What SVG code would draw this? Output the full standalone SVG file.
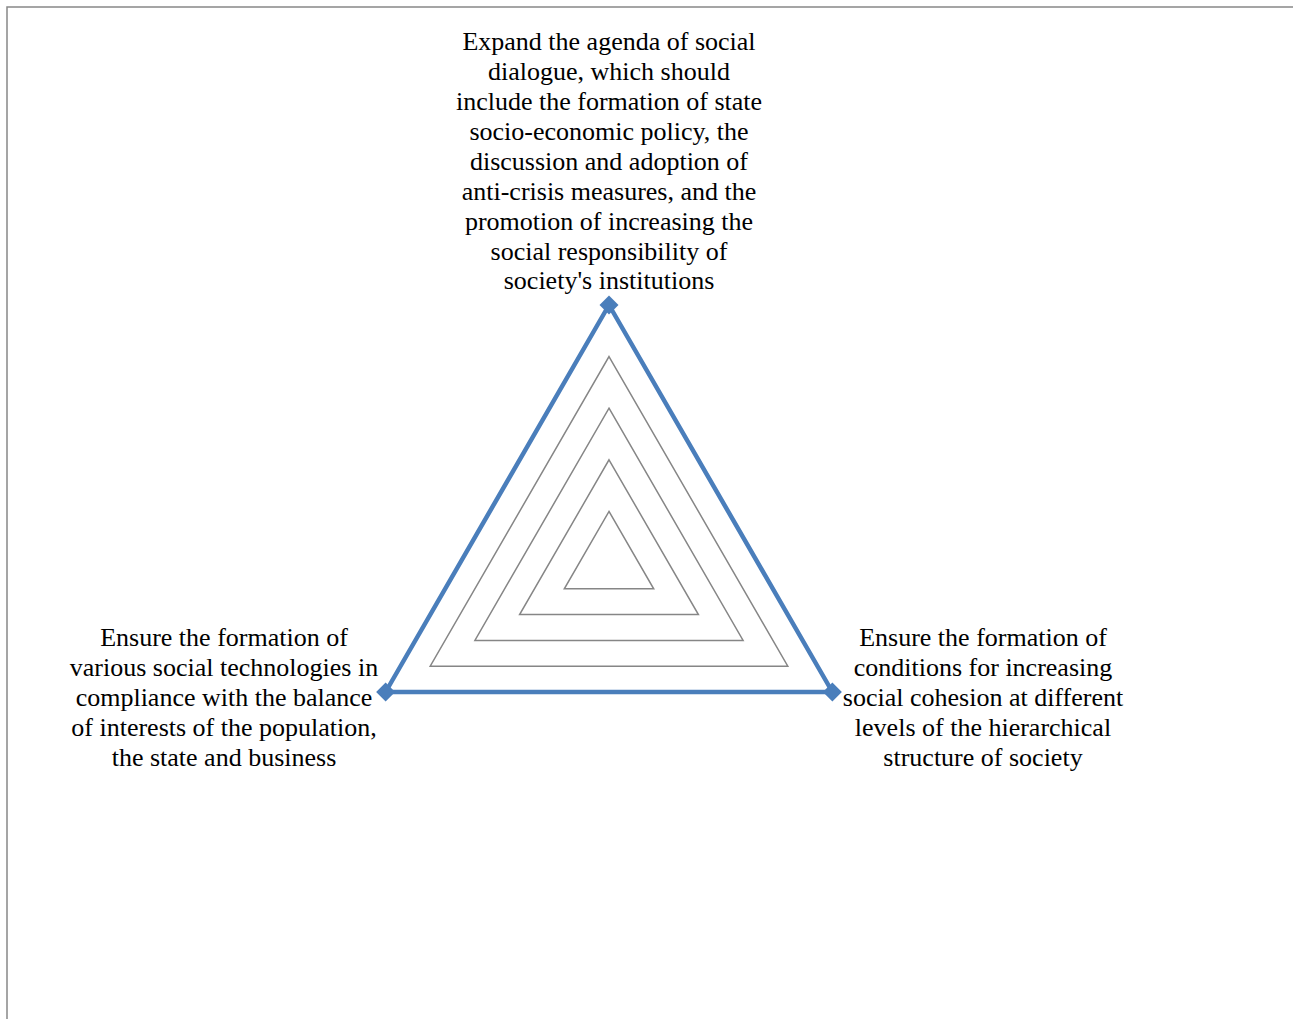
<svg xmlns="http://www.w3.org/2000/svg" width="1293" height="1019" viewBox="0 0 1293 1019">
<style>
.t{font-family:"Liberation Serif","Times New Roman",serif;font-size:26px;fill:#000;text-anchor:middle}
.grid{fill:none;stroke:#868686;stroke-width:1.5}
.data{fill:none;stroke:#4a7ebb;stroke-width:4.5;stroke-linejoin:round}
.mk{fill:#4a7ebb}
</style>
<defs>
<path id="dm" d="M0,-9.5 L9.5,0 L0,9.5 L-9.5,0 Z"/>
</defs>
<rect width="1293" height="1019" fill="#fff"/>
<path d="M7,1019 V7 H1293" fill="none" stroke="#888" stroke-width="1.5"/>
<g id="grid">
<polygon class="grid" points="609,511.4 653.7,588.8 564.3,588.8"/>
<polygon class="grid" points="609,459.8 698.4,614.6 519.6,614.6"/>
<polygon class="grid" points="609,408.2 743.1,640.4 474.9,640.4"/>
<polygon class="grid" points="609,356.6 787.8,666.2 430.2,666.2"/>
<polygon class="grid" points="609,305 832.4,692 385.6,692"/>
</g>
<g id="connectors">
<path class="data" d="M609,305 L832.4,692 L385.6,692 Z"/>
<use href="#dm" class="mk" x="609" y="305"/>
<use href="#dm" class="mk" x="832.4" y="692"/>
<use href="#dm" class="mk" x="385.6" y="692"/>
</g>
<g id="node-top">
<text class="t" x="609" y="50">Expand the agenda of social</text>
<text class="t" x="609" y="80">dialogue, which should</text>
<text class="t" x="609" y="110">include the formation of state</text>
<text class="t" x="609" y="139.5">socio-economic policy, the</text>
<text class="t" x="609" y="169.5">discussion and adoption of</text>
<text class="t" x="609" y="199.5">anti-crisis measures, and the</text>
<text class="t" x="609" y="229.5">promotion of increasing the</text>
<text class="t" x="609" y="259.5">social responsibility of</text>
<text class="t" x="609" y="289">society's institutions</text>
</g>
<g id="node-left">
<text class="t" x="224" y="646">Ensure the formation of</text>
<text class="t" x="224" y="676">various social technologies in</text>
<text class="t" x="224" y="706">compliance with the balance</text>
<text class="t" x="224" y="736">of interests of the population,</text>
<text class="t" x="224" y="766">the state and business</text>
</g>
<g id="node-right">
<text class="t" x="983" y="646">Ensure the formation of</text>
<text class="t" x="983" y="676">conditions for increasing</text>
<text class="t" x="983" y="706">social cohesion at different</text>
<text class="t" x="983" y="736">levels of the hierarchical</text>
<text class="t" x="983" y="766">structure of society</text>
</g>
</svg>
